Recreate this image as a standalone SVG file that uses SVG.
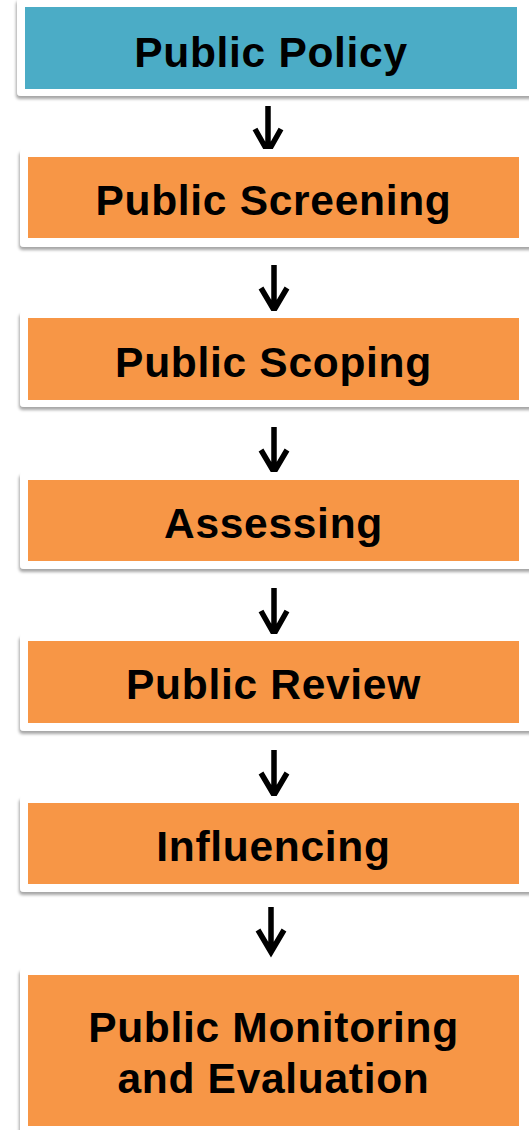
<svg xmlns="http://www.w3.org/2000/svg" width="529" height="1130" viewBox="0 0 529 1130">
<defs>
<filter id="sh" x="-10%" y="-20%" width="120%" height="150%">
<feDropShadow dx="-1" dy="3" stdDeviation="1.8" flood-color="#000" flood-opacity="0.35"/>
</filter>
</defs>
<style>
.card{fill:#ffffff;filter:url(#sh)}
.blue{fill:#4BACC6}
.orange{fill:#F79646}
.lbl{font-family:"Liberation Sans",Arial,sans-serif;font-weight:bold;font-size:42.5px;fill:#000;text-anchor:middle;letter-spacing:0.7px}
.arr{fill:none;stroke:#000;stroke-width:5.5;stroke-linejoin:miter;stroke-miterlimit:10}
</style>
<rect width="529" height="1130" fill="#ffffff"/>
<g id="connectors">
<g class="arr">
<path d="M268 106V151M255 129L268 152L281 129"/>
<path d="M274 265V309M261 288L274 310L287 288"/>
<path d="M274 427V471M261 450L274 472L287 450"/>
<path d="M274 588V633M261 611L274 634L287 611"/>
<path d="M274 750V794M261 773L274 795L287 773"/>
<path d="M271 907V951M258 930L271 952L284 930"/>
</g>
</g>
<g id="n1">
<rect class="card" x="17" y="-2" width="520" height="98" rx="4"/>
<rect class="blue" x="25" y="7" width="492" height="82"/>
<text class="lbl" x="271" y="67">Public Policy</text>
</g>
<g id="n2">
<rect class="card" x="20" y="149" width="520" height="98" rx="4"/>
<rect class="orange" x="28" y="157" width="491" height="81"/>
<text class="lbl" x="273.5" y="215">Public Screening</text>
</g>
<g id="n3">
<rect class="card" x="20" y="311" width="520" height="96" rx="4"/>
<rect class="orange" x="28" y="318" width="491" height="82"/>
<text class="lbl" x="273.5" y="377">Public Scoping</text>
</g>
<g id="n4">
<rect class="card" x="20" y="472" width="520" height="97" rx="4"/>
<rect class="orange" x="28" y="480" width="491" height="81"/>
<text class="lbl" x="273.5" y="538">Assessing</text>
</g>
<g id="n5">
<rect class="card" x="20" y="634" width="520" height="97" rx="4"/>
<rect class="orange" x="28" y="641" width="491" height="82"/>
<text class="lbl" x="273.5" y="699">Public Review</text>
</g>
<g id="n6">
<rect class="card" x="20" y="796" width="520" height="96" rx="4"/>
<rect class="orange" x="28" y="803" width="491" height="81"/>
<text class="lbl" x="273.5" y="861">Influencing</text>
</g>
<g id="n7">
<rect class="card" x="20" y="968" width="520" height="180" rx="4"/>
<rect class="orange" x="28" y="975" width="491" height="151"/>
<text class="lbl" x="273.5" y="1042">Public Monitoring</text>
<text class="lbl" x="273.5" y="1093">and Evaluation</text>
</g>
</svg>
